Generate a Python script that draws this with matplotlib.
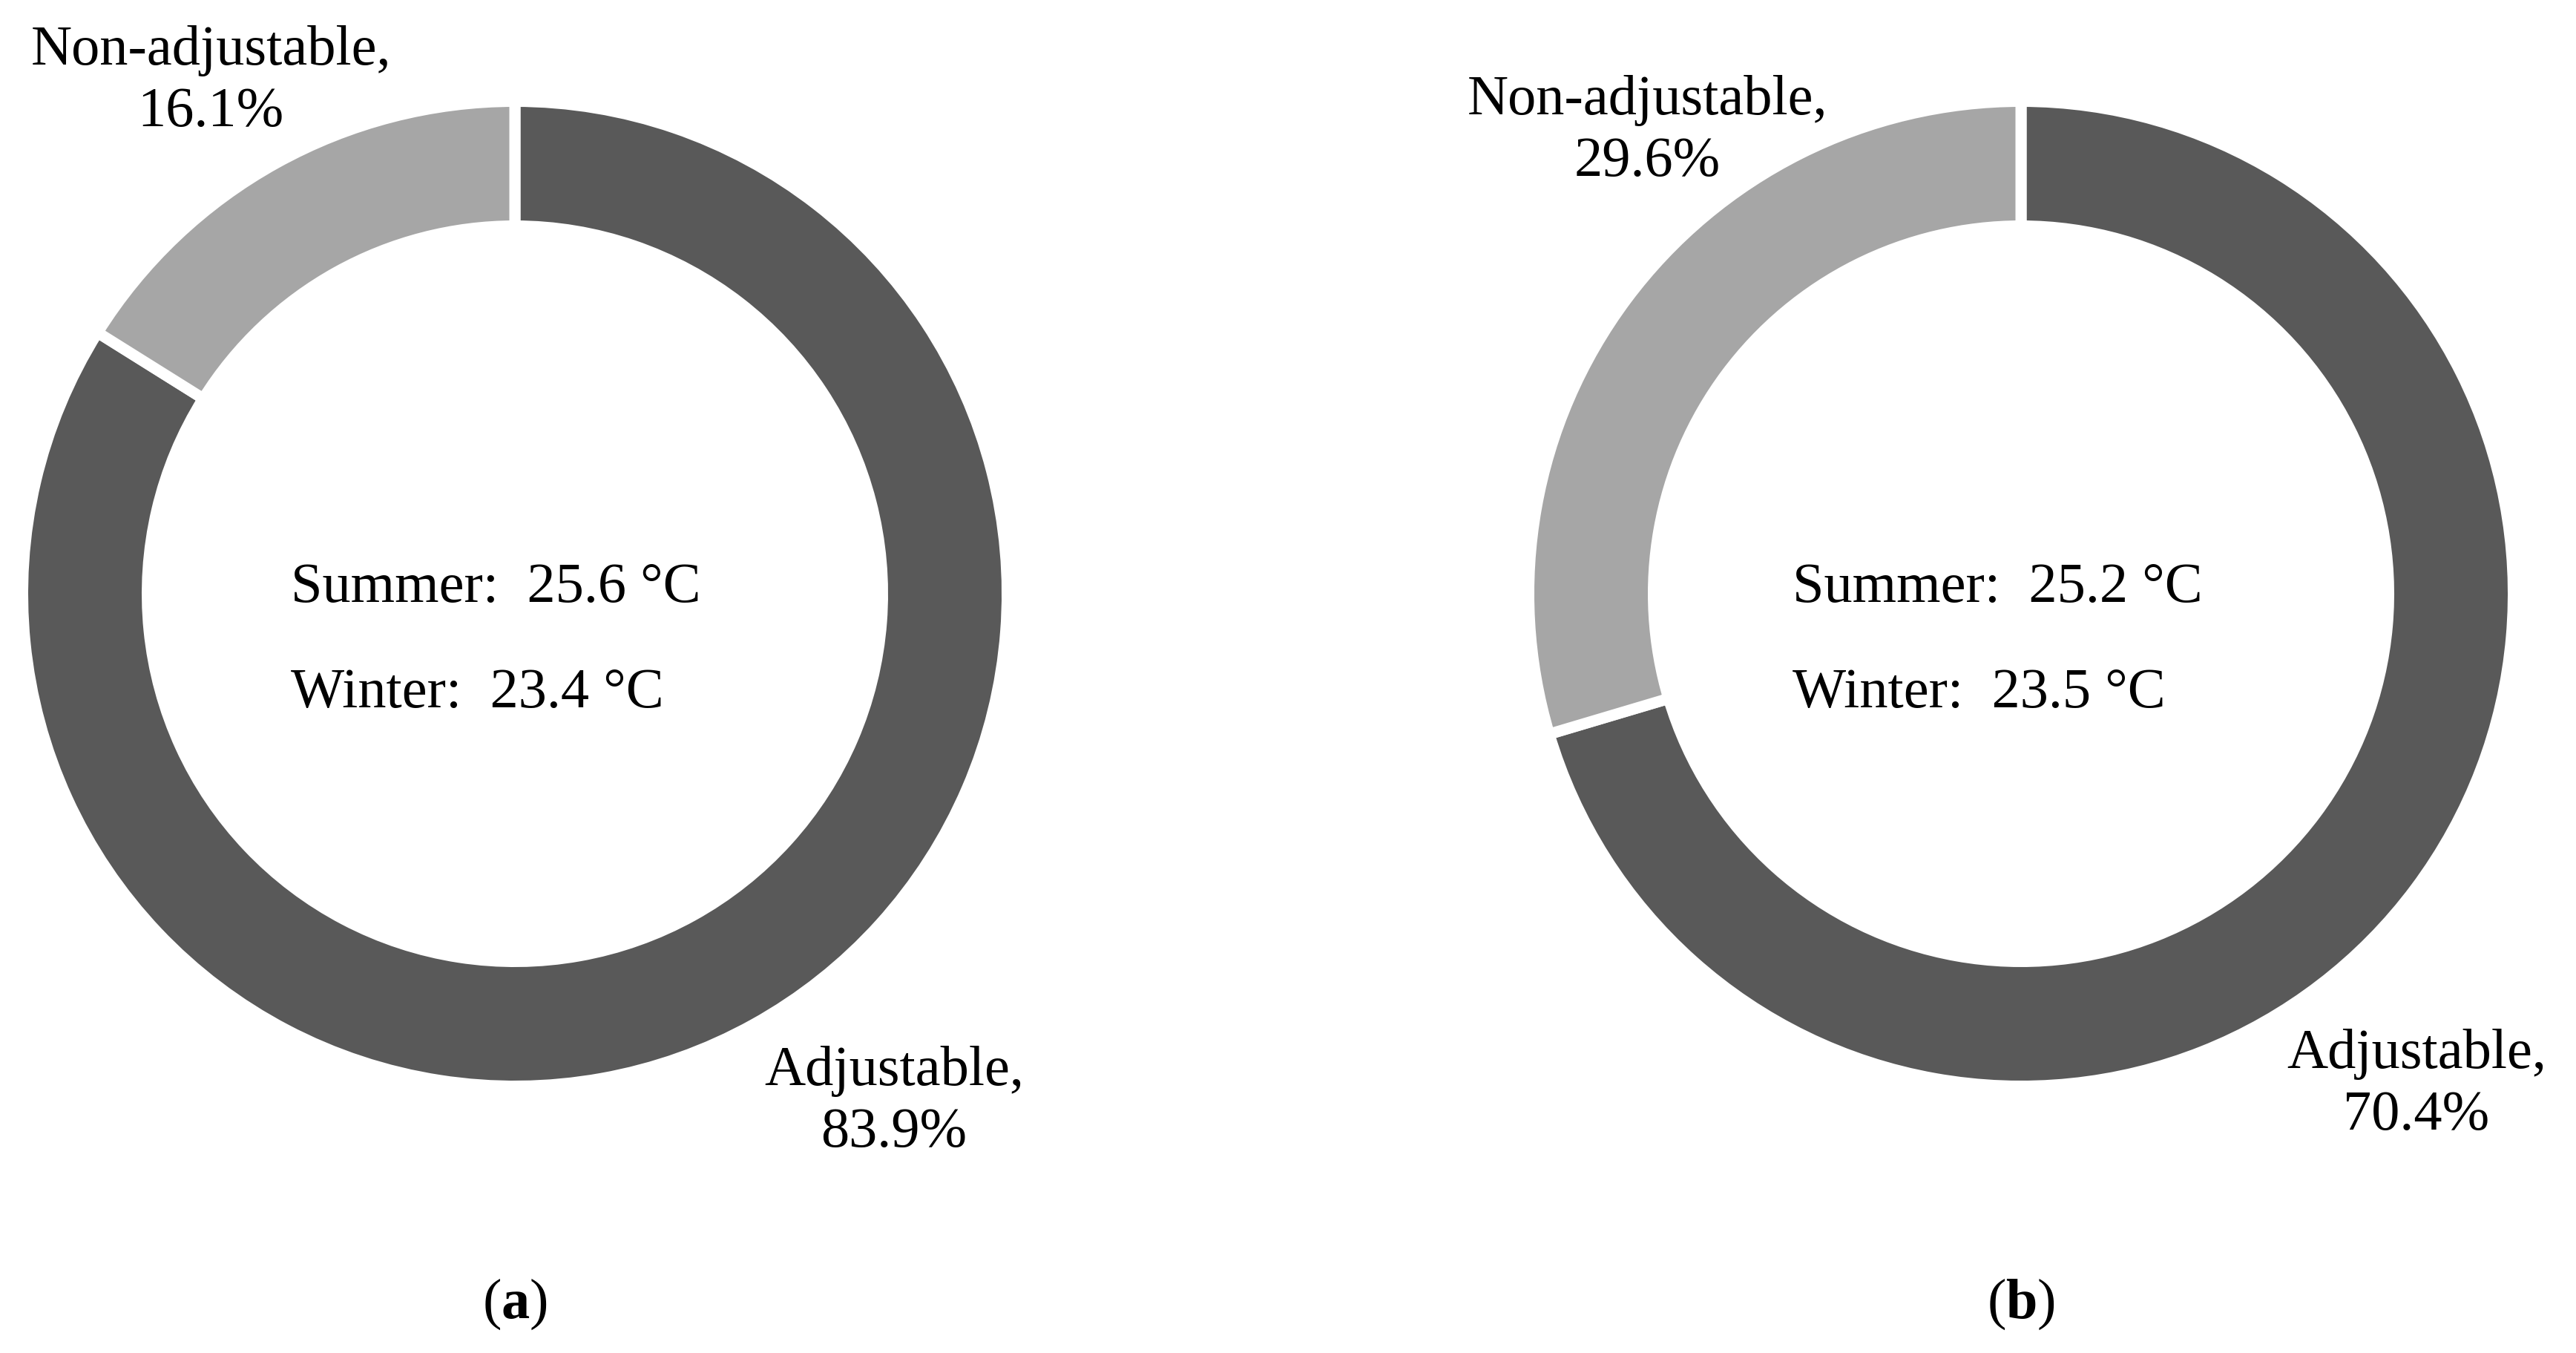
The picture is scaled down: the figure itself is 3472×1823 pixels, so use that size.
import matplotlib
matplotlib.use("Agg")
import matplotlib.pyplot as plt

panels = ["a", "b"]
adjustable = [83.9, 70.4]
non_adjustable = [16.1, 29.6]
summer_temp = [25.6, 25.2]
winter_temp = [23.4, 23.5]

DARK = "#595959"
LIGHT = "#a6a6a6"

W, H = 3472, 1824
plt.rcParams["font.family"] = ["Liberation Serif", "DejaVu Serif"]
plt.rcParams["mathtext.fontset"] = "custom"
plt.rcParams["mathtext.rm"] = "Liberation Serif"
plt.rcParams["mathtext.bf"] = "Liberation Serif:bold"

fig = plt.figure(figsize=(W / 100, H / 100), dpi=100)
ax = fig.add_axes([0, 0, 1, 1])

FS = 55
gap_px = 15
ring_r, ring_w = 656, 153
centers_x = [694, 2724]
center_y = H - 801

# label layout (pixel positions, y measured from the top)
nonadj_xy = [(284, 170), (2220, 237)]
adj_xy = [(1205, 1545), (3257, 1522)]
inner_x = [392, 2416]

for i, p in enumerate(panels):
    cx = centers_x[i]
    ax.pie([adjustable[i], non_adjustable[i]], colors=[DARK, LIGHT],
           startangle=90, counterclock=False,
           center=(cx, center_y), radius=ring_r + gap_px / 2,
           wedgeprops=dict(width=ring_w + gap_px, edgecolor="white",
                           linewidth=gap_px * 0.72))

    x, y = nonadj_xy[i]
    ax.text(x, H - y, f"Non-adjustable,\n{non_adjustable[i]:.1f}%", fontsize=FS,
            ha="center", va="baseline", multialignment="center", linespacing=1.27)
    x, y = adj_xy[i]
    ax.text(x, H - y, f"Adjustable,\n{adjustable[i]:.1f}%", fontsize=FS,
            ha="center", va="baseline", multialignment="center", linespacing=1.27)

    ax.text(inner_x[i], H - 811, f"Summer:  {summer_temp[i]:.1f} °C", fontsize=FS,
            ha="left", va="baseline")
    ax.text(inner_x[i], H - 953, f"Winter:  {winter_temp[i]:.1f} °C", fontsize=FS,
            ha="left", va="baseline")

    ax.text(cx, H - 1776, r"($\mathbf{" + p + r"}$)", fontsize=FS,
            ha="center", va="baseline")

ax.set_xlim(0, W)
ax.set_ylim(0, H)
ax.set_aspect("equal")
ax.axis("off")
fig.savefig("out.png", dpi=100, facecolor="white")
